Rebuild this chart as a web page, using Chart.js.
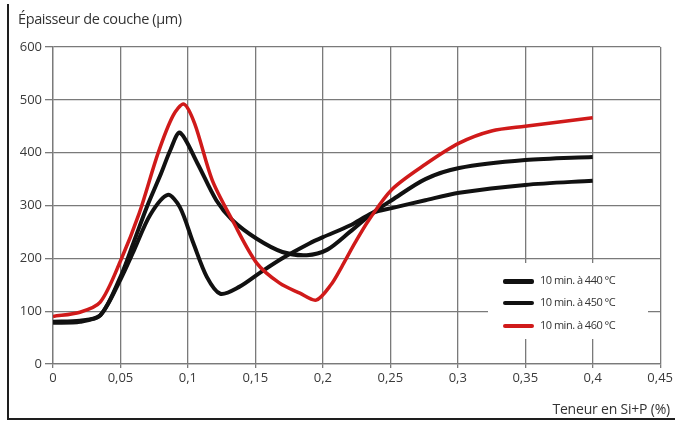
<!DOCTYPE html>
<html><head><meta charset="utf-8">
<script src="https://cdn.jsdelivr.net/npm/chart.js@4/dist/chart.umd.min.js"></script>
<style>
html,body{margin:0;padding:0;background:#fff;}
#wrap{position:relative;width:675px;height:422px;overflow:hidden;font-family:"Open Sans",sans-serif;}
#frame{position:absolute;left:7px;top:4px;width:700px;height:414px;border-left:2px solid #1e1e1e;border-bottom:2px solid #1e1e1e;}
#title{position:absolute;left:18px;top:9px;font-size:14.5px;color:#333;letter-spacing:-0.4px;white-space:nowrap;}
#xtitle{position:absolute;right:5px;top:399px;font-size:14px;color:#333;letter-spacing:-0.2px;white-space:nowrap;}
#legend{position:absolute;left:488px;top:263px;width:160px;height:76px;background:#fff;}
.item{position:absolute;left:15px;height:14px;white-space:nowrap;font-size:11px;color:#333;letter-spacing:-0.5px;}
.item .ln{position:absolute;left:0;width:31px;}
.item .tx{position:absolute;left:37px;top:-2px;}
canvas{position:absolute;left:0;top:0;}
</style></head>
<body><div id="wrap">
<canvas id="c" width="675" height="422"></canvas>
<div id="frame"></div>
<div id="title">Épaisseur de couche (µm)</div>
<div id="xtitle">Teneur en Si+P (%)</div>
<div id="legend"></div>
</div>
<script>
const seriesNames = ['10 min. à 440 °C', '10 min. à 450 °C', '10 min. à 460 °C'];
const seriesColors = ['#111111', '#111111', '#d01a1a'];
const xTicks = [0, 0.05, 0.1, 0.15, 0.2, 0.25, 0.3, 0.35, 0.4, 0.45];
const yTicks = [0, 100, 200, 300, 400, 500, 600];

const x440 = [0, 0.02, 0.035, 0.05, 0.06, 0.072, 0.085, 0.094, 0.104, 0.114, 0.124, 0.138, 0.153, 0.17, 0.19, 0.2, 0.22, 0.237, 0.251, 0.276, 0.301, 0.35, 0.4];
const y440 = [78, 80, 92, 160, 215, 282, 320, 297, 229, 165, 133, 146, 172, 200, 228, 240, 262, 286, 295, 310, 324, 339, 347];

const x450 = [0, 0.02, 0.035, 0.05, 0.06, 0.07, 0.08, 0.087, 0.094, 0.107, 0.121, 0.133, 0.151, 0.17, 0.188, 0.203, 0.22, 0.237, 0.251, 0.276, 0.301, 0.35, 0.4];
const y450 = [80, 82, 92, 165, 232, 300, 360, 405, 438, 380, 310, 272, 237, 212, 206, 216, 250, 286, 310, 350, 371, 386, 392];

const x460 = [0, 0.02, 0.035, 0.05, 0.064, 0.078, 0.089, 0.097, 0.105, 0.118, 0.133, 0.151, 0.168, 0.183, 0.195, 0.206, 0.214, 0.224, 0.234, 0.251, 0.276, 0.301, 0.325, 0.35, 0.4];
const y460 = [90, 98, 117, 195, 286, 400, 470, 492, 455, 348, 272, 191, 153, 134, 121, 150, 184, 230, 272, 330, 378, 418, 441, 450, 466];

const toPts = (xs, ys) => xs.map((x, i) => ({x: x, y: ys[i]}));
const seriesX = [x440, x450, x460];
const seriesY = [y440, y450, y460];
const widths = [4, 4, 3.5];
const legendWidths = [5, 4.5, 4];

const datasets = seriesNames.map((n, i) => ({
  label: n,
  data: toPts(seriesX[i], seriesY[i]),
  borderColor: seriesColors[i],
  borderWidth: widths[i],
  pointRadius: 0,
  fill: false,
  tension: 0.3,
  capBezierPoints: true,
  order: i === 2 ? 0 : 1
}));

// HTML legend
const lg = document.getElementById('legend');
const rowTops = [11, 33, 56];
seriesNames.forEach((n, i) => {
  const d = document.createElement('div');
  d.className = 'item';
  d.style.top = rowTops[i] + 'px';
  const ln = document.createElement('div');
  ln.className = 'ln';
  ln.style.background = seriesColors[i];
  ln.style.height = legendWidths[i] + 'px';
  ln.style.top = (7 - legendWidths[i] / 2) + 'px';
  ln.style.borderRadius = '2px';
  const tx = document.createElement('div');
  tx.className = 'tx';
  tx.textContent = n;
  d.appendChild(ln); d.appendChild(tx);
  lg.appendChild(d);
});

const fmt = v => {
  const r = Math.round(v * 100) / 100;
  return String(r).replace('.', ',');
};

new Chart(document.getElementById('c'), {
  type: 'line',
  data: { datasets: datasets },
  options: {
    responsive: false,
    animation: false,
    layout: { padding: { left: 0, top: 47, right: 12, bottom: 28 } },
    plugins: { legend: { display: false }, tooltip: { enabled: false } },
    scales: {
      x: {
        type: 'linear', min: 0, max: 0.45,
        afterBuildTicks: s => { s.ticks = xTicks.map(v => ({value: v})); },
        afterFit: s => { s.height = 30; },
        grid: { color: '#7a7a7a', lineWidth: 1.3, tickLength: 4, drawTicks: true },
        border: { color: '#7a7a7a', width: 1.3 },
        ticks: { callback: v => fmt(v), color: '#3a3a3a', font: { family: 'Open Sans', size: 13 }, padding: 2, maxRotation: 0 }
      },
      y: {
        type: 'linear', min: 0, max: 600,
        afterBuildTicks: s => { s.ticks = yTicks.map(v => ({value: v})); },
        afterFit: s => { s.width = 53; },
        grid: { color: '#7a7a7a', lineWidth: 1.3, tickLength: 8 },
        border: { color: '#7a7a7a', width: 1.3 },
        ticks: { color: '#3a3a3a', font: { family: 'Open Sans', size: 13 }, padding: 3 }
      }
    }
  }
});
</script>
</body></html>
